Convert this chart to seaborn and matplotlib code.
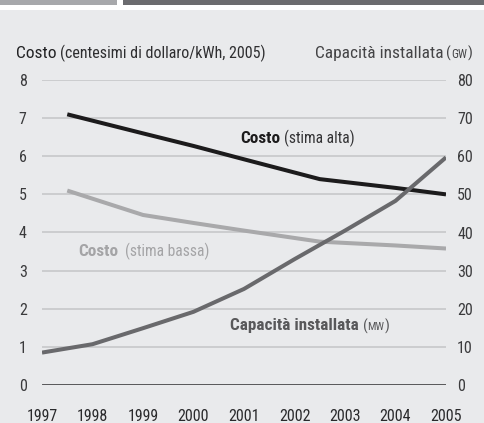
import matplotlib
matplotlib.use("Agg")
import matplotlib.pyplot as plt
import matplotlib.transforms as mtransforms
from matplotlib.patches import Rectangle
import pandas as pd
import seaborn as sns

# Cost of electricity from wind (US cents/kWh, 2005 dollars)
cost_years = [1997.5, 1999, 2000, 2001, 2002.5, 2004, 2005]
cost_high = [7.1, 6.6, 6.27, 5.92, 5.4, 5.17, 5.0]
cost_low = [5.1, 4.46, 4.25, 4.05, 3.76, 3.66, 3.58]

# Installed capacity (GW)
cap_years = [1997, 1998, 1999, 2000, 2001, 2002, 2003, 2004, 2005]
capacity = [8.5, 10.7, 14.9, 19.2, 25.2, 33.0, 40.5, 48.3, 59.7]

left_ticks = [0, 1, 2, 3, 4, 5, 6, 7, 8]
right_ticks = [0, 10, 20, 30, 40, 50, 60, 70, 80]
year_ticks = [1997, 1998, 1999, 2000, 2001, 2002, 2003, 2004, 2005]

BG = "#e9eaec"
GRID = "#c9cacc"
C_HIGH = "#1c1b1c"
C_LOW = "#a9a9ab"
C_CAP = "#69696c"
TXT = "#3a3a3c"

sns.set_style("white", {"axes.facecolor": BG, "figure.facecolor": BG})
FONT = ["Roboto Condensed", "DejaVu Sans"]
plt.rcParams["font.family"] = FONT

W, H = 485, 423
fig = plt.figure(figsize=(W / 100, H / 100), dpi=100)
fig.patch.set_facecolor(BG)

# top banner strips
fig.patches.append(Rectangle((0, 1 - 10 / H), 1, 10 / H, transform=fig.transFigure,
                             facecolor="white", edgecolor="none", zorder=0))
fig.patches.append(Rectangle((0, 1 - 5 / H), 117.5 / W, 5 / H, transform=fig.transFigure,
                             facecolor="#a7a8ab", edgecolor="none", zorder=1))
fig.patches.append(Rectangle((123.3 / W, 1 - 5 / H), 1, 5 / H, transform=fig.transFigure,
                             facecolor="#6b6b6f", edgecolor="none", zorder=1))

ax = fig.add_axes([42 / W, 1 - 385 / H, 404 / W, 305 / H])
ax.set_facecolor(BG)
ax2 = ax.twinx()

df_cost = pd.DataFrame({"anno": cost_years, "alta": cost_high, "bassa": cost_low})
df_cap = pd.DataFrame({"anno": cap_years, "capacita": capacity})

sns.lineplot(data=df_cost, x="anno", y="alta", ax=ax, color=C_HIGH, lw=2.9,
             solid_capstyle="butt", zorder=4)
sns.lineplot(data=df_cost, x="anno", y="bassa", ax=ax, color=C_LOW, lw=2.9,
             solid_capstyle="butt", zorder=3)
sns.lineplot(data=df_cap, x="anno", y="capacita", ax=ax2, color=C_CAP, lw=2.9,
             solid_capstyle="butt", zorder=5)

for a in (ax, ax2):
    a.set_xlim(1997, 2005)
    a.set_xlabel("")
    a.set_ylabel("")
    for s in a.spines.values():
        s.set_visible(False)

ax.set_ylim(0, 8)
ax2.set_ylim(0, 80)
ax.set_yticks(left_ticks)
ax2.set_yticks(right_ticks)
ax.set_xticks(year_ticks)
ax.set_xticklabels([str(y) for y in year_ticks])
ax.grid(axis="y", color=GRID, lw=1.3)
ax.grid(axis="x", visible=False)
ax2.grid(False)
ax.set_axisbelow(True)
ax.axhline(0, color="#4e4e50", lw=2.0, zorder=2)

ax.tick_params(axis="y", length=0, pad=11, labelsize=11.5, labelcolor=TXT)
ax2.tick_params(axis="y", length=0, pad=8, labelsize=11.5, labelcolor=TXT)
ax.tick_params(axis="x", length=0, pad=17, labelsize=11.5, labelcolor="#2a2a2c")

fig.canvas.draw()
renderer = fig.canvas.get_renderer()


def rich(x, y, parts, transform, align="left"):
    """Draw several text runs side by side on a shared baseline."""
    widths = []
    probes = []
    for s, kw, gap in parts:
        t = fig.text(0, 0, s, **kw)
        widths.append(t.get_window_extent(renderer=renderer).width)
        probes.append(t)
    for t in probes:
        t.remove()
    total = sum(widths) + sum(g for _, _, g in parts)
    dx = -total if align == "right" else 0.0
    for (s, kw, gap), w in zip(parts, widths):
        dx += gap
        tr = mtransforms.offset_copy(transform, fig=fig, x=dx, y=0, units="dots")
        fig.text(x, y, s, transform=tr, ha="left", va="baseline", **kw)
        dx += w


pix = fig.dpi_scale_trans  # inches
# header, left axis
rich(16 / 100, (H - 58) / 100, [
    ("Costo", dict(fontsize=12.5, color="#222224"), 0),
    ("(centesimi di dollaro/kWh, 2005)", dict(fontsize=11.5, color="#2e2e30"), 4),
], pix)
# header, right axis
rich(472 / 100, (H - 58) / 100, [
    ("Capacità installata", dict(fontsize=12.5, color="#444446"), 0),
    ("(", dict(fontsize=11, color="#444446"), 3),
    ("GW", dict(fontsize=8.5, color="#444446"), 0),
    (")", dict(fontsize=11, color="#444446"), 0),
], pix, align="right")

# series labels, in data coordinates of the cost axis
rich(2000.92, 6.34, [
    ("Costo", dict(fontsize=12.3, fontweight="bold", color=C_HIGH), 0),
    ("(stima alta)", dict(fontsize=11.2, color="#333335"), 4),
], ax.transData)
rich(1997.71, 3.38, [
    ("Costo", dict(fontsize=12.3, fontweight="bold", color="#a4a4a6"), 0),
    ("(stima bassa)", dict(fontsize=11.2, color="#a4a4a6"), 7),
], ax.transData)
rich(2000.72, 1.44, [
    ("Capacità installata", dict(fontsize=12.3, fontweight="bold", color="#58585a"), 0),
    ("(", dict(fontsize=11, color="#58585a"), 4),
    ("MW", dict(fontsize=8, color="#58585a"), 0),
    (")", dict(fontsize=11, color="#58585a"), 0),
], ax.transData)

fig.savefig("out.png", dpi=100, facecolor=BG)
